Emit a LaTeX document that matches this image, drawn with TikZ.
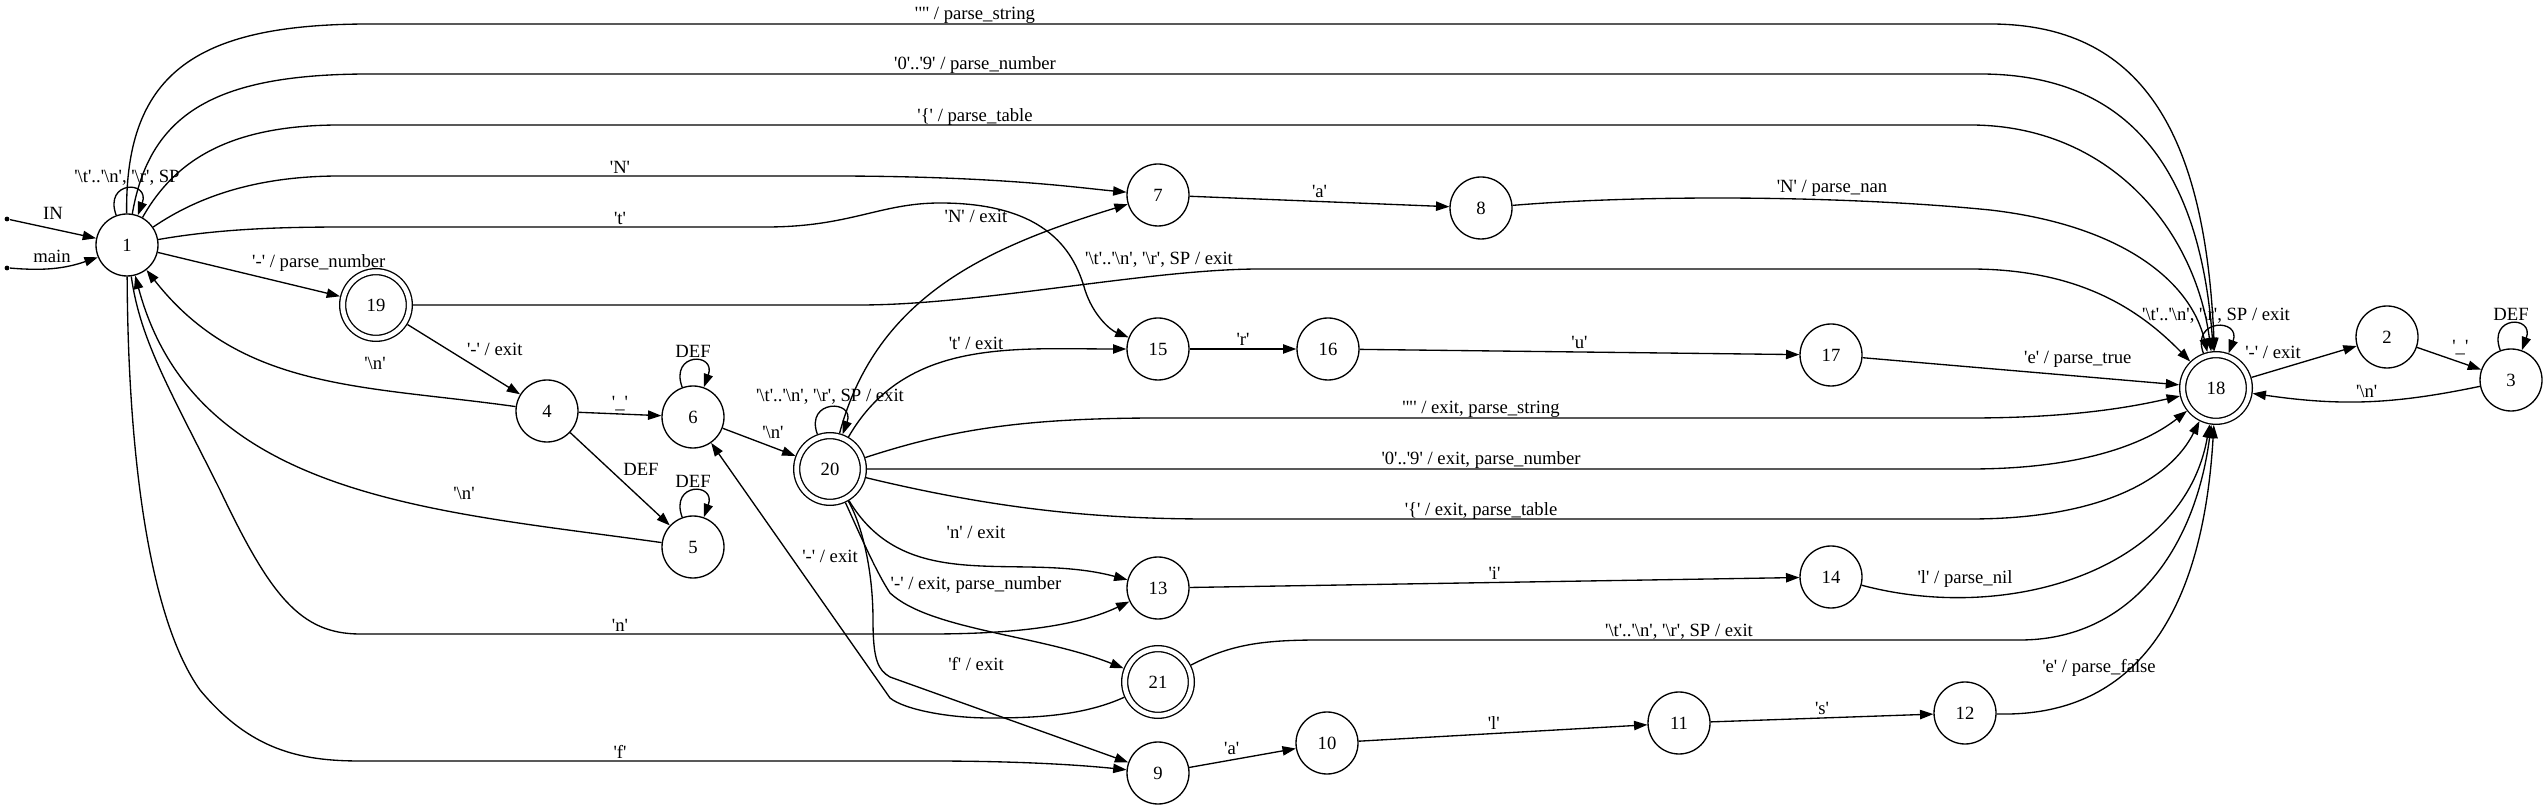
\documentclass[tikz,border=0pt]{standalone}
\usepackage{fontspec}
\newfontfamily\gvfont{Liberation Serif}
\usetikzlibrary{automata,arrows.meta}
\newcommand\bsl{\textbackslash}
\newcommand\wsp{'\bsl t'..'\bsl n', '\bsl r', SP}

\begin{document}
\begin{tikzpicture}[x=0.75pt,y=0.75pt,auto,line width=1pt,
		font=\gvfont\fontsize{14pt}{17pt}\selectfont,
		>={Triangle[length=10pt,width=7pt]},
		every node/.style={inner sep=2pt},
		every state/.style={draw,minimum size=46.5pt,inner sep=0pt},
		accepting/.style={double,double distance=3.5pt,minimum size=50pt,outer sep=2.75pt},
		every loop/.style={out=110,in=70,distance=28pt},
		dot/.style={circle,fill,inner sep=0pt,minimum size=3.6pt}]
			\useasboundingbox (0,0) rectangle (2548,810);
			\node[dot] (in1) at (7,591) {};
			\node[dot] (in2) at (7,542) {};
			\node[state] (1) at (127,565) {1};
				\draw[->] (in1) -- (1) node at (53,597) {IN};
				\draw[->] (in2) to[bend right=12] (1) node at (52,554) {main};
				\path[->] (1) edge[loop above] node {\wsp} ();
			\node[state,accepting] (19) at (376,505) {19};
				\path[->] (1) edge node {'-' / parse\_number} (19);
			\node[state] (4) at (547,399) {4};
				\path[->] (19) edge node {'-' / exit} (4);
				\draw[->] (4) to[out=172,in=-52] (1) node at (375,447) {'\bsl n'};
			\node[state] (6) at (693,393) {6};
				\path[->] (4) edge node {'\_'} (6);
				\path[->] (6) edge[loop above] node {DEF} ();
			\node[state] (5) at (693,263) {5};
				\path[->] (4) edge node {DEF} (5);
				\path[->] (5) edge[loop above] node {DEF} ();
				\draw[->] (5) to[out=172,in=-75] (1) node at (464,317) {'\bsl n'};
			\node[state,accepting] (20) at (830,341) {20};
				\path[->] (6) edge node {'\bsl n'} (20);
				\path[->] (20) edge[loop above] node {\wsp{} / exit} ();
			\node[state] (7) at (1158,615) {7};
				\draw[->] (1) .. controls (200,615) and (260,634) .. (340,634) -- (830,634) .. controls (1000,634) and (1080,622) .. (7) node at (620,643) {'N'};
				\draw[->] (20) to[out=75,in=197] (7) node at (976,594) {'N' / exit};
			\node[state] (8) at (1481,602) {8};
				\path[->] (7) edge node {'a'} (8);
			\node[state] (15) at (1158,461) {15};
				\draw[->] (1) .. controls (230,583) and (300,583) .. (360,583) -- (766,583) .. controls (850,583) and (880,607) .. (940,607) .. controls (1050,607) and (1075,555) .. (1085,520) .. controls (1093,495) and (1110,480) .. (15) node at (620,592) {'t'};
				\draw[->] (20) to[out=60,in=180] (15) node at (976,467) {'t' / exit};
			\node[state] (16) at (1328,461) {16};
				\path[->] (15) edge node {'r'} (16);
			\node[state] (17) at (1831,455) {17};
				\path[->] (16) edge node {'u'} (17);
			\node[state,accepting] (18) at (2216,422) {18};
				\path[->] (17) edge node {'e' / parse\_true} (18);
				\path[->] (18) edge[loop above] node {\wsp{} / exit} ();
				\draw[->] (1) .. controls (125,740) and (200,786) .. (370,786) -- (1990,786) .. controls (2140,786) and (2205,680) .. (18) node at (975,795) {'"' / parse\_string};
				\draw[->] (1) .. controls (150,700) and (220,736) .. (370,736) -- (1980,736) .. controls (2130,736) and (2200,640) .. (18) node at (975,745) {'0'..'9' / parse\_number};
				\draw[->] (1) .. controls (175,650) and (230,685) .. (340,685) -- (1970,685) .. controls (2110,685) and (2195,580) .. (18) node at (975,693) {'\{' / parse\_table};
				\draw[->] (8) .. controls (1650,616) and (1850,614) .. (1990,600) .. controls (2120,585) and (2190,530) .. (18) node at (1832,622) {'N' / parse\_nan};
				\draw[->] (19) -- (860,505) .. controls (980,505) and (1150,541) .. (1260,541) -- (1970,541) .. controls (2080,541) and (2140,500) .. (18) node at (1159,550) {\wsp{} / exit};
				\draw[->] (20) .. controls (950,380) and (1020,392) .. (1160,392) -- (1970,392) .. controls (2080,392) and (2140,405) .. (18) node at (1481,401) {'"' / exit, parse\_string};
				\draw[->] (20) -- (1970,341) .. controls (2090,341) and (2150,370) .. (18) node at (1481,350) {'0'..'9' / exit, parse\_number};
				\draw[->] (20) .. controls (1000,300) and (1100,291) .. (1210,291) -- (1970,291) .. controls (2100,291) and (2170,330) .. (18) node at (1481,299) {'\{' / exit, parse\_table};
			\node[state] (2) at (2387,473) {2};
				\path[->] (18) edge node {'-' / exit} (2);
			\node[state] (3) at (2511,430) {3};
				\path[->] (2) edge node {'\_'} (3);
				\path[->] (3) edge[loop above] node {DEF} ();
				\path[->] (3) edge[bend left=10] node[swap] {'\bsl n'} (18);
			\node[state] (13) at (1158,222) {13};
				\draw[->] (1) .. controls (140,470) and (170,420) .. (220,320) .. controls (270,215) and (300,176) .. (360,176) -- (930,176) .. controls (1020,176) and (1080,185) .. (13) node at (620,185) {'n'};
				\draw[->] (20) to[out=-59,in=165] (13) node at (976,278) {'n' / exit};
			\node[state] (14) at (1831,233) {14};
				\path[->] (13) edge node {'i'} (14);
				\draw[->] (14) to[out=-15,in=-100] (18) node at (1965,231) {'l' / parse\_nil};
			\node[state,accepting] (21) at (1158,128) {21};
				\draw[->] (20) .. controls (858,280) and (875,240) .. (890,217) .. controls (930,180) and (1040,175) .. (21) node at (976,225) {'-' / exit, parse\_number};
				\draw[->] (21) .. controls (1085,95) and (1040,92) .. (990,92) .. controls (950,92) and (905,100) .. (890,112) -- (6) node at (830,254) {'-' / exit};
				\draw[->] (21) .. controls (1230,165) and (1260,170) .. (1320,170) -- (2020,170) .. controls (2130,170) and (2195,260) .. (18) node at (1679,178) {\wsp{} / exit};
			\node[state] (9) at (1158,37) {9};
				\draw[->] (1) .. controls (128,350) and (150,190) .. (200,120) .. controls (250,60) and (300,49) .. (360,49) -- (930,49) .. controls (1020,49) and (1080,45) .. (9) node at (620,58) {'f'};
				\draw[->] (20) .. controls (862,285) and (873,240) .. (873,190) .. controls (873,150) and (878,140) .. (890,133) -- (9) node at (976,146) {'f' / exit};
			\node[state] (10) at (1327,67) {10};
				\path[->] (9) edge node {'a'} (10);
			\node[state] (11) at (1679,87) {11};
				\path[->] (10) edge node {'l'} (11);
			\node[state] (12) at (1965,97) {12};
				\path[->] (11) edge node {'s'} (12);
				\draw[->] (12) .. controls (2100,93) and (2200,150) .. (18) node at (2099,142) {'e' / parse\_false};
		\end{tikzpicture}
\end{document}
